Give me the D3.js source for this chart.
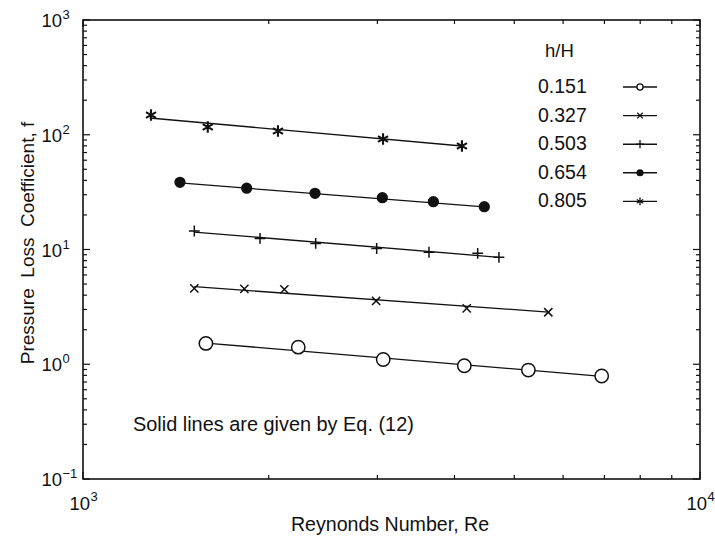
<!DOCTYPE html>
<html lang="en">

<head>
	<meta charset="UTF-8">
	<script src="https://cdn.jsdelivr.net/npm/d3@7"></script>
	<title>Pressure Loss Coefficient vs Reynolds Number</title>
</head>
<style>
	body {
		margin: 0;
		background: #fff;
		font-family: "Liberation Sans", Arial, sans-serif;
	}

	svg text {
		fill: #111;
	}
</style>

<body>
	<svg id="chart"></svg>
	<script>
		// h/H series, values
		const hH = ['0.151', '0.327', '0.503', '0.654', '0.805'];
		const marks = ['openCircle', 'x', 'plus', 'dot', 'asterisk'];

		const re151 = [1582, 2233, 3066, 4150, 5270, 6929];
		const f151 = [1.52, 1.41, 1.10, 0.97, 0.89, 0.79];
		const re327 = [1515, 1826, 2120, 2986, 4187, 5677];
		const f327 = [4.59, 4.53, 4.50, 3.56, 3.07, 2.84];
		const re503 = [1515, 1936, 2383, 2992, 3637, 4362, 4722];
		const f503 = [14.5, 12.5, 11.3, 10.2, 9.46, 9.27, 8.55];
		const re654 = [1436, 1842, 2377, 3056, 3697, 4471];
		const f654 = [38.5, 34.2, 30.9, 28.3, 26.1, 23.6];
		const re805 = [1289, 1593, 2070, 3064, 4113];
		const f805 = [148.6, 116.8, 107.9, 91.8, 79.8];

		// solid lines from Eq. (12): end points as drawn
		const fitRe = [[1582, 6929], [1515, 5677], [1515, 4722], [1436, 4471], [1283, 4113]];
		const fitF = [[1.53, 0.785], [4.74, 2.85], [14.2, 8.55], [38.0, 23.5], [140, 79.8]];

		const xMajor = [3, 4];          // powers of ten on x
		const yMajor = [-1, 0, 1, 2, 3]; // powers of ten on y

		const width = 715;
		const height = 544;
		const margin = { top: 20, right: 15, bottom: 65, left: 83 };

		const svg = d3.select('#chart')
			.attr('width', width)
			.attr('height', height);

		const x = d3.scaleLog().domain([1e3, 1e4]).range([margin.left, width - margin.right]);
		const y = d3.scaleLog().domain([0.1, 1e3]).range([height - margin.bottom, margin.top]);

		const x0 = x.range()[0], x1 = x.range()[1];
		const y0 = y.range()[0], y1 = y.range()[1];

		// minor + major tick values
		const xTicks = x.ticks();
		const yTicks = y.ticks();
		const isMajor = v => Math.abs(Math.log10(v) - Math.round(Math.log10(v))) < 1e-9;

		const tickG = svg.append('g').attr('stroke', '#111').attr('stroke-width', 1.2);
		xTicks.forEach(v => {
			const len = isMajor(v) ? 7 : 4;
			tickG.append('line').attr('x1', x(v)).attr('x2', x(v)).attr('y1', y0).attr('y2', y0 - len);
			tickG.append('line').attr('x1', x(v)).attr('x2', x(v)).attr('y1', y1).attr('y2', y1 + len);
		});
		yTicks.forEach(v => {
			const len = isMajor(v) ? 7 : 4;
			tickG.append('line').attr('x1', x0).attr('x2', x0 + len).attr('y1', y(v)).attr('y2', y(v));
			tickG.append('line').attr('x1', x1).attr('x2', x1 - len).attr('y1', y(v)).attr('y2', y(v));
		});

		// frame
		svg.append('rect')
			.attr('x', x0).attr('y', y1)
			.attr('width', x1 - x0).attr('height', y0 - y1)
			.attr('fill', 'none').attr('stroke', '#111').attr('stroke-width', 1.6);

		// tick labels (10 with superscript)
		yMajor.forEach(p => {
			const yy = y(Math.pow(10, p));
			svg.append('text').attr('x', 62).attr('y', yy + 7)
				.attr('text-anchor', 'end').attr('font-size', 18.5).text('10');
			svg.append('text').attr('x', 62.5).attr('y', yy - 1)
				.attr('font-size', 13).text(p < 0 ? '\u2212' + (-p) : p);
		});
		xMajor.forEach(p => {
			const xx = x(Math.pow(10, p));
			svg.append('text').attr('x', xx + 7).attr('y', 510)
				.attr('text-anchor', 'end').attr('font-size', 18.5).text('10');
			svg.append('text').attr('x', xx + 7.5).attr('y', 501)
				.attr('font-size', 13).text(p);
		});

		// axis titles
		svg.append('text')
			.attr('x', 390).attr('y', 531)
			.attr('text-anchor', 'middle').attr('font-size', 19.6)
			.text('Reynonds Number, Re');
		svg.append('text')
			.attr('transform', 'translate(34,243) rotate(-90)')
			.attr('text-anchor', 'middle').attr('font-size', 19)
			.attr('xml:space', 'preserve')
			.style('white-space', 'pre')
			.text('Pressure  Loss  Coefficient, f');

		svg.append('text')
			.attr('x', 133).attr('y', 431)
			.attr('font-size', 19.9)
			.text('Solid lines are given by Eq. (12)');

		// marker drawing
		const sym = {
			openCircle: d3.symbol(d3.symbolCircle, 140),
			x: d3.symbol(d3.symbolX, 46),
			plus: d3.symbol(d3.symbolPlus, 40),
			dot: d3.symbol(d3.symbolCircle, 100),
			asterisk: d3.symbol(d3.symbolAsterisk, 95)
		};
		function drawMark(g, kind, gen) {
			const p = g.append('path').attr('d', gen);
			if (kind === 'openCircle') p.attr('fill', '#fff').attr('stroke', '#111').attr('stroke-width', 1.5);
			else if (kind === 'dot') p.attr('fill', '#111');
			else p.attr('fill', 'none').attr('stroke', '#111').attr('stroke-width', kind === 'asterisk' ? 2.1 : 1.5);
			return p;
		}

		const reData = [re151, re327, re503, re654, re805];
		const fData = [f151, f327, f503, f654, f805];
		const line = d3.line().x(d => x(d[0])).y(d => y(d[1]));

		hH.forEach((name, i) => {
			const g = svg.append('g');
			g.append('path')
				.attr('d', line(d3.zip(fitRe[i], fitF[i])))
				.attr('fill', 'none').attr('stroke', '#111').attr('stroke-width', 1.3);
			d3.zip(reData[i], fData[i]).forEach(d => {
				drawMark(g, marks[i], sym[marks[i]])
					.attr('transform', `translate(${x(d[0])},${y(d[1])})`);
			});
		});

		// legend
		const legend = svg.append('g');
		legend.append('text').attr('x', 545).attr('y', 57).attr('font-size', 18.5).text('h/H');
		const legSym = {
			openCircle: d3.symbol(d3.symbolCircle, 30),
			x: d3.symbol(d3.symbolX, 22),
			plus: d3.symbol(d3.symbolPlus, 24),
			dot: d3.symbol(d3.symbolCircle, 40),
			asterisk: d3.symbol(d3.symbolAsterisk, 40)
		};
		hH.forEach((name, i) => {
			const by = 93 + i * 28.6;
			legend.append('text').attr('x', 538).attr('y', by).attr('font-size', 19.5).text(name);
			const cy = by - 6;
			legend.append('line').attr('x1', 623).attr('x2', 657).attr('y1', cy).attr('y2', cy)
				.attr('stroke', '#111').attr('stroke-width', 1.4);
			drawMark(legend, marks[i], legSym[marks[i]])
				.attr('transform', `translate(640,${cy})`)
				.attr('stroke-width', 1.3);
		});
	</script>
</body>

</html>
